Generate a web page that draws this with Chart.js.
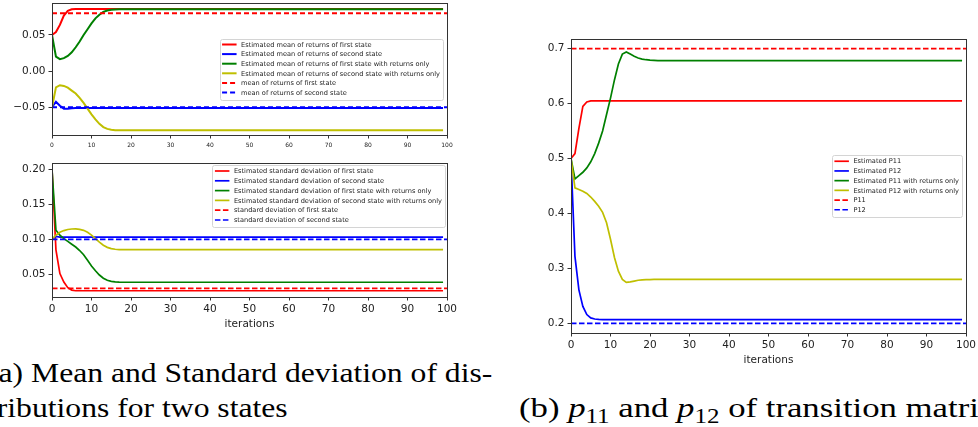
<!DOCTYPE html>
<html>
<head>
<meta charset="utf-8">
<script src="https://cdn.jsdelivr.net/npm/chart.js@4.4.1/dist/chart.umd.min.js"></script>
<style>
  html, body { margin: 0; padding: 0; background: #fff; }
  body { width: 978px; height: 427px; position: relative; overflow: hidden; }
  canvas { position: absolute; }
  #cvMean { left: 0; top: 0; }
  #cvStd { left: 0; top: 150px; }
  #cvTrans { left: 520px; top: 30px; }
  .cap { position: absolute; font-family: "Liberation Serif", "DejaVu Serif", serif; font-size: 28px; color: #000; white-space: nowrap; line-height: 35px; transform-origin: 0 0; }
  .cap sub { font-size: 0.72em; line-height: 0; vertical-align: -0.3em; }
  #capA { left: -12px; top: 355px; transform: scaleX(1.13); }
  #capB { left: 519px; top: 390px; transform: scaleX(1.24); }
</style>
</head>
<body>
<canvas id="cvMean" width="460" height="150"></canvas>
<canvas id="cvStd" width="460" height="192"></canvas>
<canvas id="cvTrans" width="458" height="340"></canvas>
<div class="cap" id="capA">(a) Mean and Standard deviation of dis-<br>tributions for two states</div>
<div class="cap" id="capB">(b) <i>p</i><sub>11</sub> and <i>p</i><sub>12</sub> of transition matrix</div>

<script>
// ── iterations logged (estimates are flat after ~20, last one is 99) ──
var iters = [0,1,2,3,4,5,6,7,8,9,10,11,12,13,14,15,16,17,18,19,20,21,22,99];
var refSpan = [0, 100];   // true values are drawn across the full axis
var xTicks = [0,10,20,30,40,50,60,70,80,90,100];

// ── mean of returns ──
var meanRed    = [0.050,0.054,0.064,0.077,0.0835,0.0855,0.086,0.086,0.086,0.086,0.086,0.086,0.086,0.086,0.086,0.086,0.086,0.086,0.086,0.086,0.086,0.086,0.086,0.086];
var meanBlue   = [-0.050,-0.0425,-0.048,-0.052,-0.052,-0.0515,-0.051,-0.051,-0.051,-0.051,-0.051,-0.051,-0.051,-0.051,-0.051,-0.051,-0.051,-0.051,-0.051,-0.051,-0.051,-0.051,-0.051,-0.051];
var meanGreen  = [0.050,0.020,0.0165,0.018,0.021,0.026,0.033,0.041,0.050,0.058,0.066,0.073,0.078,0.082,0.084,0.085,0.0853,0.0855,0.0855,0.0855,0.0855,0.0855,0.0855,0.0855];
var meanYellow = [-0.050,-0.0225,-0.0195,-0.0205,-0.023,-0.027,-0.031,-0.037,-0.044,-0.052,-0.060,-0.067,-0.073,-0.0775,-0.080,-0.0812,-0.0818,-0.082,-0.082,-0.082,-0.082,-0.082,-0.082,-0.082];
var meanTrue1  = [0.08, 0.08];
var meanTrue2  = [-0.05, -0.05];
var meanYTicks = [-0.05, 0, 0.05];
var meanYLabels = ["\u22120.05", "0.00", "0.05"];

// ── standard deviation ──
var stdRed    = [0.200,0.085,0.051,0.039,0.031,0.0275,0.0265,0.0265,0.0265,0.0265,0.0265,0.0265,0.0265,0.0265,0.0265,0.0265,0.0265,0.0265,0.0265,0.0265,0.0265,0.0265,0.0265,0.0265];
var stdBlue   = [0.100,0.104,0.103,0.103,0.103,0.103,0.103,0.103,0.103,0.103,0.103,0.103,0.103,0.103,0.103,0.103,0.103,0.103,0.103,0.103,0.103,0.103,0.103,0.103];
var stdGreen  = [0.200,0.113,0.106,0.101,0.097,0.093,0.089,0.084,0.078,0.070,0.062,0.055,0.049,0.0445,0.0415,0.040,0.0392,0.0388,0.0387,0.0387,0.0387,0.0387,0.0387,0.0387];
var stdYellow = [0.100,0.106,0.110,0.1125,0.114,0.1147,0.1148,0.1142,0.1128,0.110,0.106,0.101,0.096,0.0915,0.0885,0.0867,0.0858,0.0853,0.0852,0.0852,0.0852,0.0852,0.0852,0.0852];
var stdTrue1  = [0.03, 0.03];
var stdTrue2  = [0.10, 0.10];
var stdYTicks = [0.05, 0.10, 0.15, 0.20];
var stdYLabels = ["0.05", "0.10", "0.15", "0.20"];

// ── transition probabilities ──
var pRed    = [0.500,0.509,0.555,0.595,0.603,0.605,0.605,0.605,0.605,0.605,0.605,0.605,0.605,0.605,0.605,0.605,0.605,0.605,0.605,0.605,0.605,0.605,0.605,0.605];
var pBlue   = [0.500,0.322,0.261,0.231,0.216,0.210,0.208,0.2073,0.207,0.207,0.207,0.207,0.207,0.207,0.207,0.207,0.207,0.207,0.207,0.207,0.207,0.207,0.207,0.207];
var pGreen  = [0.500,0.463,0.469,0.475,0.483,0.494,0.509,0.528,0.550,0.580,0.610,0.643,0.672,0.690,0.694,0.690,0.686,0.683,0.681,0.6798,0.679,0.6785,0.678,0.678];
var pYellow = [0.500,0.4466,0.4436,0.4405,0.4364,0.430,0.422,0.413,0.402,0.383,0.353,0.320,0.295,0.280,0.2745,0.2755,0.277,0.2785,0.2792,0.2796,0.2798,0.280,0.280,0.280];
var pTrue11 = [0.7, 0.7];
var pTrue12 = [0.2, 0.2];
var pYTicks = [0.2, 0.3, 0.4, 0.5, 0.6, 0.7];
var pYLabels = ["0.2", "0.3", "0.4", "0.5", "0.6", "0.7"];

var RED = "#ff0000", BLUE = "#0000ff", GREEN = "#008000", YELLOW = "#bfbf00";

function pts(xs, ys) {
  return ys.map(function(v, i) { return { x: xs[i], y: v }; });
}

// later series sit on top, like the plotting order
function line(label, xs, ys, color, width, dash, idx) {
  return {
    label: label, data: pts(xs, ys),
    borderColor: color, backgroundColor: color,
    borderWidth: width, borderDash: dash || [],
    pointRadius: 0, tension: 0, fill: false, order: -idx
  };
}

// boxed legend inside the axes
var boxLegend = {
  id: "boxLegend",
  afterDatasetsDraw: function(chart, args, o) {
    var ctx = chart.ctx, a = chart.chartArea, sets = chart.data.datasets;
    ctx.save();
    ctx.font = o.fontSize + 'px "DejaVu Sans"';
    var maxW = 0;
    sets.forEach(function(d) { maxW = Math.max(maxW, ctx.measureText(d.label).width); });
    var w = 21.5 + maxW + 3;
    var h = 6 + (sets.length - 1) * o.rowH + 7;
    var right = a.right - o.pad;
    var left = right - w;
    var top = o.loc === "upper right" ? a.top + o.pad : (a.top + a.bottom) / 2 - h / 2;
    ctx.beginPath();
    ctx.roundRect(Math.round(left) + 0.5, Math.round(top) + 0.5, Math.round(w), Math.round(h), 2);
    ctx.fillStyle = "rgba(255,255,255,0.8)";
    ctx.fill();
    ctx.strokeStyle = "#d4d4d4";
    ctx.lineWidth = 1;
    ctx.stroke();
    sets.forEach(function(d, i) {
      var y = top + 6 + i * o.rowH;
      ctx.strokeStyle = d.borderColor;
      ctx.lineWidth = d.borderWidth;
      ctx.setLineDash(d.borderDash);
      ctx.beginPath();
      ctx.moveTo(left + 2.5, y);
      ctx.lineTo(left + 17, y);
      ctx.stroke();
      ctx.setLineDash([]);
      ctx.fillStyle = "#222";
      ctx.textBaseline = "middle";
      ctx.fillText(d.label, left + 21.5, y + 0.5);
    });
    ctx.restore();
  }
};

// full box round the axes
var frame = {
  id: "frame",
  afterDatasetsDraw: function(chart) {
    var ctx = chart.ctx, a = chart.chartArea;
    ctx.save();
    ctx.strokeStyle = "#333";
    ctx.lineWidth = 1;
    ctx.strokeRect(Math.round(a.left) + 0.5, Math.round(a.top) + 0.5,
                   Math.round(a.right - a.left), Math.round(a.bottom - a.top));
    ctx.restore();
  }
};

function makeChart(id, o) {
  var tickFont = { family: "DejaVu Sans", size: o.xFont };
  return new Chart(document.getElementById(id), {
    type: "line",
    data: { datasets: o.datasets },
    options: {
      responsive: false, animation: false, devicePixelRatio: 1,
      layout: { padding: { top: o.padTop, right: o.padRight, left: 0, bottom: 0 } },
      plugins: {
        legend: { display: false }, tooltip: { enabled: false },
        boxLegend: o.legend
      },
      scales: {
        x: {
          type: "linear", min: 0, max: 100,
          afterBuildTicks: function(s) { s.ticks = xTicks.map(function(v) { return { value: v }; }); },
          afterFit: function(s) { s.height = o.xH; s.paddingLeft = 0; s.paddingRight = 0; },
          grid: { drawOnChartArea: false, drawTicks: true, tickLength: 3.5, color: "#333" },
          border: { display: false },
          ticks: { font: tickFont, color: "#222", padding: o.xPad, maxRotation: 0, autoSkip: false },
          title: o.xTitle ? {
            display: true, text: "iterations", color: "#222",
            font: { family: "DejaVu Sans", size: 10.5 },
            padding: { top: 0, bottom: o.titlePad }
          } : { display: false }
        },
        y: {
          type: "linear", min: o.yMin, max: o.yMax,
          afterBuildTicks: function(s) { s.ticks = o.yTicks.map(function(v) { return { value: v }; }); },
          afterFit: function(s) { s.width = o.yW; s.paddingTop = 0; s.paddingBottom = 0; },
          grid: { drawOnChartArea: false, drawTicks: true, tickLength: 3.5, color: "#333" },
          border: { display: false },
          ticks: {
            font: { family: "DejaVu Sans", size: 10.5 }, color: "#222", padding: 3,
            callback: function(v, i) { return o.yLabels[i]; }
          }
        }
      }
    },
    plugins: [frame, boxLegend]
  });
}

makeChart("cvMean", {
  datasets: [
    line("Estimated mean of returns of first state", iters, meanRed, RED, 2, null, 0),
    line("Estimated mean of returns of second state", iters, meanBlue, BLUE, 2, null, 1),
    line("Estimated mean of returns of first state with returns only", iters, meanGreen, GREEN, 2, null, 2),
    line("Estimated mean of returns of second state with returns only", iters, meanYellow, YELLOW, 2, null, 3),
    line("mean of returns of first state", refSpan, meanTrue1, RED, 2, [5, 3], 4),
    line("mean of returns of second state", refSpan, meanTrue2, BLUE, 2, [5, 3], 5)
  ],
  padTop: 3, padRight: 13, yW: 52, xH: 15, xFont: 6, xPad: 3, xTitle: false,
  yMin: -0.0885, yMax: 0.0943, yTicks: meanYTicks, yLabels: meanYLabels,
  legend: { loc: "center right", pad: 4, rowH: 9.6, fontSize: 6.6 }
});

makeChart("cvStd", {
  datasets: [
    line("Estimated standard deviation of first state", iters, stdRed, RED, 1.7, null, 0),
    line("Estimated standard deviation of second state", iters, stdBlue, BLUE, 1.7, null, 1),
    line("Estimated standard deviation of first state with returns only", iters, stdGreen, GREEN, 1.7, null, 2),
    line("Estimated standard deviation of second state with returns only", iters, stdYellow, YELLOW, 1.7, null, 3),
    line("standard deviation of first state", refSpan, stdTrue1, RED, 1.7, [5.5, 2.5], 4),
    line("standard deviation of second state", refSpan, stdTrue2, BLUE, 1.7, [5.5, 2.5], 5)
  ],
  padTop: 13, padRight: 13, yW: 52, xH: 45, xFont: 10.5, xPad: 2.5, xTitle: true, titlePad: 11.7,
  yMin: 0.0176, yMax: 0.209, yTicks: stdYTicks, yLabels: stdYLabels,
  legend: { loc: "upper right", pad: 2, rowH: 9.8, fontSize: 6.6 }
});

makeChart("cvTrans", {
  datasets: [
    line("Estimated P11", iters, pRed, RED, 1.7, null, 0),
    line("Estimated P12", iters, pBlue, BLUE, 1.7, null, 1),
    line("Estimated P11 with returns only", iters, pGreen, GREEN, 1.7, null, 2),
    line("Estimated P12 with returns only", iters, pYellow, YELLOW, 1.7, null, 3),
    line("P11", refSpan, pTrue11, RED, 1.7, [5.5, 2.5], 4),
    line("P12", refSpan, pTrue12, BLUE, 1.7, [5.5, 2.5], 5)
  ],
  padTop: 9, padRight: 12, yW: 51, xH: 37, xFont: 10.5, xPad: 2.5, xTitle: true, titlePad: 3.7,
  yMin: 0.1825, yMax: 0.7175, yTicks: pYTicks, yLabels: pYLabels,
  legend: { loc: "center right", pad: 4, rowH: 9.7, fontSize: 6.6 }
});
</script>
</body>
</html>
